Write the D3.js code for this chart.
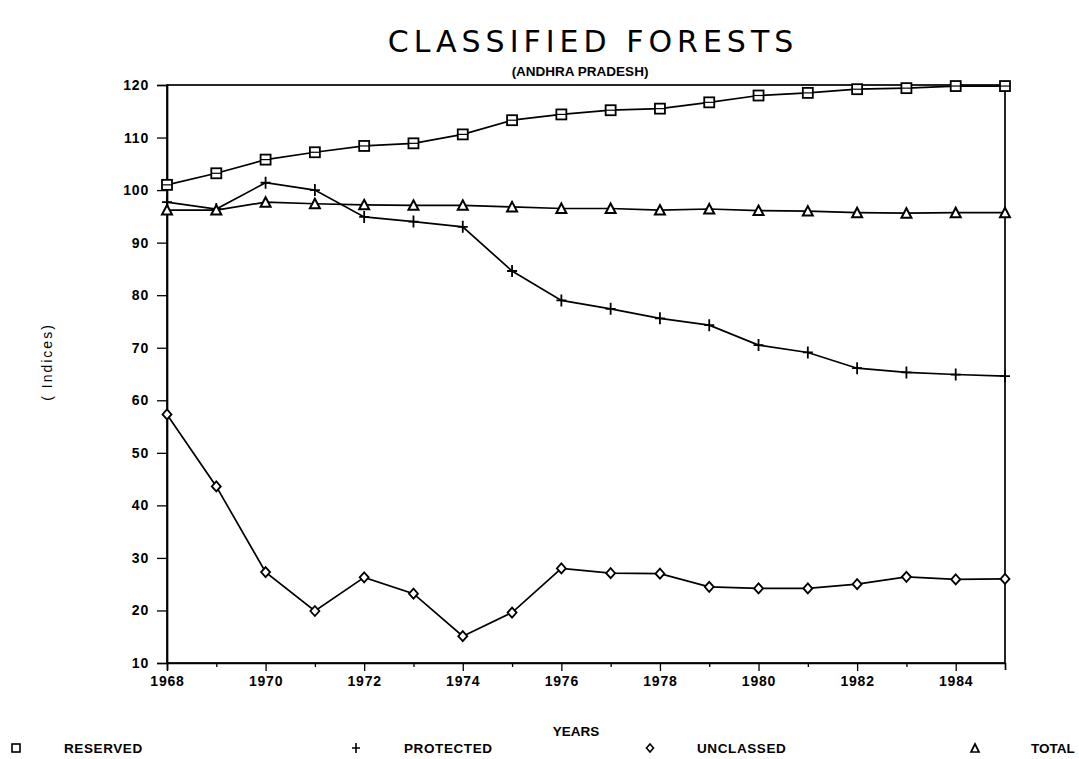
<!DOCTYPE html>
<html>
<head>
<meta charset="utf-8">
<script src="https://cdn.jsdelivr.net/npm/d3@7"></script>
<style>
  body { margin: 0; background: #fff; }
  text { font-family: "Liberation Sans", Arial, sans-serif; fill: #000; }
</style>
</head>
<body>
<div id="chart-area"></div>
<script>
// values
var years = [1968, 1969, 1970, 1971, 1972, 1973, 1974, 1975, 1976,
             1977, 1978, 1979, 1980, 1981, 1982, 1983, 1984, 1985];
var reserved  = [101.0, 103.2, 105.8, 107.2, 108.4, 108.9, 110.6, 113.3, 114.4,
                 115.2, 115.5, 116.7, 118.0, 118.5, 119.2, 119.4, 119.8, 119.8];
var protectedF = [97.7, 96.4, 101.4, 100.0, 94.9, 94.0, 93.0, 84.6, 79.0,
                 77.4, 75.6, 74.3, 70.5, 69.1, 66.1, 65.3, 64.9, 64.6];
var unclassed = [57.3, 43.6, 27.3, 19.9, 26.3, 23.2, 15.1, 19.6, 28.0,
                 27.1, 27.0, 24.5, 24.2, 24.2, 25.0, 26.4, 25.9, 26.0];
var total     = [96.2, 96.2, 97.7, 97.4, 97.2, 97.1, 97.1, 96.8, 96.5,
                 96.5, 96.2, 96.4, 96.1, 96.0, 95.7, 95.6, 95.7, 95.7];
var yTicks = [10, 20, 30, 40, 50, 60, 70, 80, 90, 100, 110, 120];
var xLabels = [1968, 1970, 1972, 1974, 1976, 1978, 1980, 1982, 1984];

var seriesNames = ["RESERVED", "PROTECTED", "UNCLASSED", "TOTAL"];
var seriesVals = [reserved, protectedF, unclassed, total];
var seriesSym = ["square", "plus", "diamond", "triangle"];

var width = 1079, height = 759;
var margin = { top: 85, right: 74, bottom: 96, left: 167 };
var chartW = width - margin.left - margin.right;
var chartH = height - margin.top - margin.bottom;

var svg = d3.select("#chart-area").append("svg")
  .attr("width", width)
  .attr("height", height);

var g = svg.append("g")
  .attr("transform", "translate(" + margin.left + "," + margin.top + ")");

var x = d3.scaleLinear().domain([1968, 1985]).range([0, chartW]);
var y = d3.scaleLinear().domain([10, 120]).range([chartH, 0]);

// frame
g.append("rect")
  .attr("width", chartW).attr("height", chartH)
  .attr("fill", "none").attr("stroke", "#000").attr("stroke-width", 1.7);

// y axis
var yAxisG = g.append("g")
  .call(d3.axisLeft(y).tickValues(yTicks).tickSize(10).tickPadding(8));
yAxisG.select(".domain").attr("stroke-width", 1.7);
yAxisG.selectAll(".tick line").attr("stroke-width", 1.3);
yAxisG.selectAll("text")
  .attr("font-size", 14).attr("font-weight", "bold")
  .attr("letter-spacing", 0.8)
  .attr("font-family", "Liberation Sans, Arial, sans-serif");

// x axis: every year ticked, even years labelled with longer ticks
var xAxisG = g.append("g")
  .attr("transform", "translate(0," + chartH + ")")
  .call(d3.axisBottom(x).tickValues(years.slice(0, 17)).tickSize(7)
    .tickFormat(d => xLabels.indexOf(d) >= 0 ? d : "").tickPadding(6));
xAxisG.select(".domain").attr("stroke-width", 1.7);
xAxisG.selectAll(".tick line")
  .attr("stroke-width", 1.3)
  .attr("y2", d => d % 2 === 0 ? 8 : 4);
xAxisG.selectAll("text")
  .attr("font-size", 14).attr("font-weight", "bold")
  .attr("letter-spacing", 0.8)
  .attr("font-family", "Liberation Sans, Arial, sans-serif");

// lines
var line = d3.line()
  .x((d, i) => x(years[i]))
  .y(d => y(d));

seriesVals.forEach(function (vals) {
  g.append("path")
    .datum(vals)
    .attr("fill", "none")
    .attr("stroke", "#000")
    .attr("stroke-width", 1.7)
    .attr("d", line);
});

// markers
function marker(sel, sym) {
  if (sym === "square") {
    sel.append("rect").attr("x", -5).attr("y", -5).attr("width", 10).attr("height", 10)
      .attr("fill", "#fff").attr("stroke", "#000").attr("stroke-width", 1.8);
    sel.append("line").attr("x1", -5).attr("x2", 5)
      .attr("stroke", "#000").attr("stroke-width", 1.2);
  } else if (sym === "plus") {
    sel.append("path").attr("d", "M-5,0H5M0,-6V6")
      .attr("stroke", "#000").attr("stroke-width", 1.8);
  } else if (sym === "diamond") {
    sel.append("path").attr("d", "M0,-5L4.5,0L0,5L-4.5,0Z")
      .attr("fill", "#fff").attr("stroke", "#000").attr("stroke-width", 1.8);
  } else {
    sel.append("path").attr("d", "M0,-5L5,4.5L-5,4.5Z")
      .attr("fill", "#fff").attr("stroke", "#000").attr("stroke-width", 2);
  }
}

seriesVals.forEach(function (vals, k) {
  g.append("g").selectAll("g")
    .data(vals)
    .enter().append("g")
    .attr("transform", (d, i) => "translate(" + x(years[i]) + "," + y(d) + ")")
    .each(function () { marker(d3.select(this), seriesSym[k]); });
});

// titles
svg.append("text")
  .attr("x", 593).attr("y", 52)
  .attr("text-anchor", "middle")
  .attr("font-size", 30)
  .attr("letter-spacing", 5)
  .style("font-family", "DejaVu Sans, sans-serif")
  .text("CLASSIFIED FORESTS");

svg.append("text")
  .attr("x", 580).attr("y", 76)
  .attr("text-anchor", "middle")
  .attr("font-size", 13.5)
  .attr("font-weight", "bold")
  .text("(ANDHRA PRADESH)");

svg.append("text")
  .attr("transform", "translate(52," + (margin.top + chartH / 2 - 12) + ") rotate(-90)")
  .attr("text-anchor", "middle")
  .attr("font-size", 14)
  .attr("letter-spacing", 2)
  .text("( Indices)");

svg.append("text")
  .attr("x", 576).attr("y", 736)
  .attr("text-anchor", "middle")
  .attr("font-size", 13.5)
  .attr("font-weight", "bold")
  .text("YEARS");

// legend
var legendSym = [16, 356, 650, 975];
var legendTxt = [64, 404, 697, 1031];
seriesNames.forEach(function (name, k) {
  var lg = svg.append("g").attr("transform", "translate(" + legendSym[k] + ",748)");
  if (seriesSym[k] === "square") {
    lg.append("rect").attr("x", -4).attr("y", -4).attr("width", 8).attr("height", 8)
      .attr("fill", "#fff").attr("stroke", "#000").attr("stroke-width", 1.6);
  } else if (seriesSym[k] === "plus") {
    lg.append("path").attr("d", "M-4,0H4M0,-5V5").attr("stroke", "#000").attr("stroke-width", 1.6);
  } else if (seriesSym[k] === "diamond") {
    lg.append("path").attr("d", "M0,-4L3.5,0L0,4L-3.5,0Z")
      .attr("fill", "#fff").attr("stroke", "#000").attr("stroke-width", 1.6);
  } else {
    lg.append("path").attr("d", "M0,-4L4,4L-4,4Z")
      .attr("fill", "#fff").attr("stroke", "#000").attr("stroke-width", 1.7);
  }
  svg.append("text")
    .attr("x", legendTxt[k]).attr("y", 753)
    .attr("font-size", 13.5)
    .attr("font-weight", "bold")
    .attr("letter-spacing", k === 3 ? 0 : 0.6)
    .text(name);
});
</script>
</body>
</html>
